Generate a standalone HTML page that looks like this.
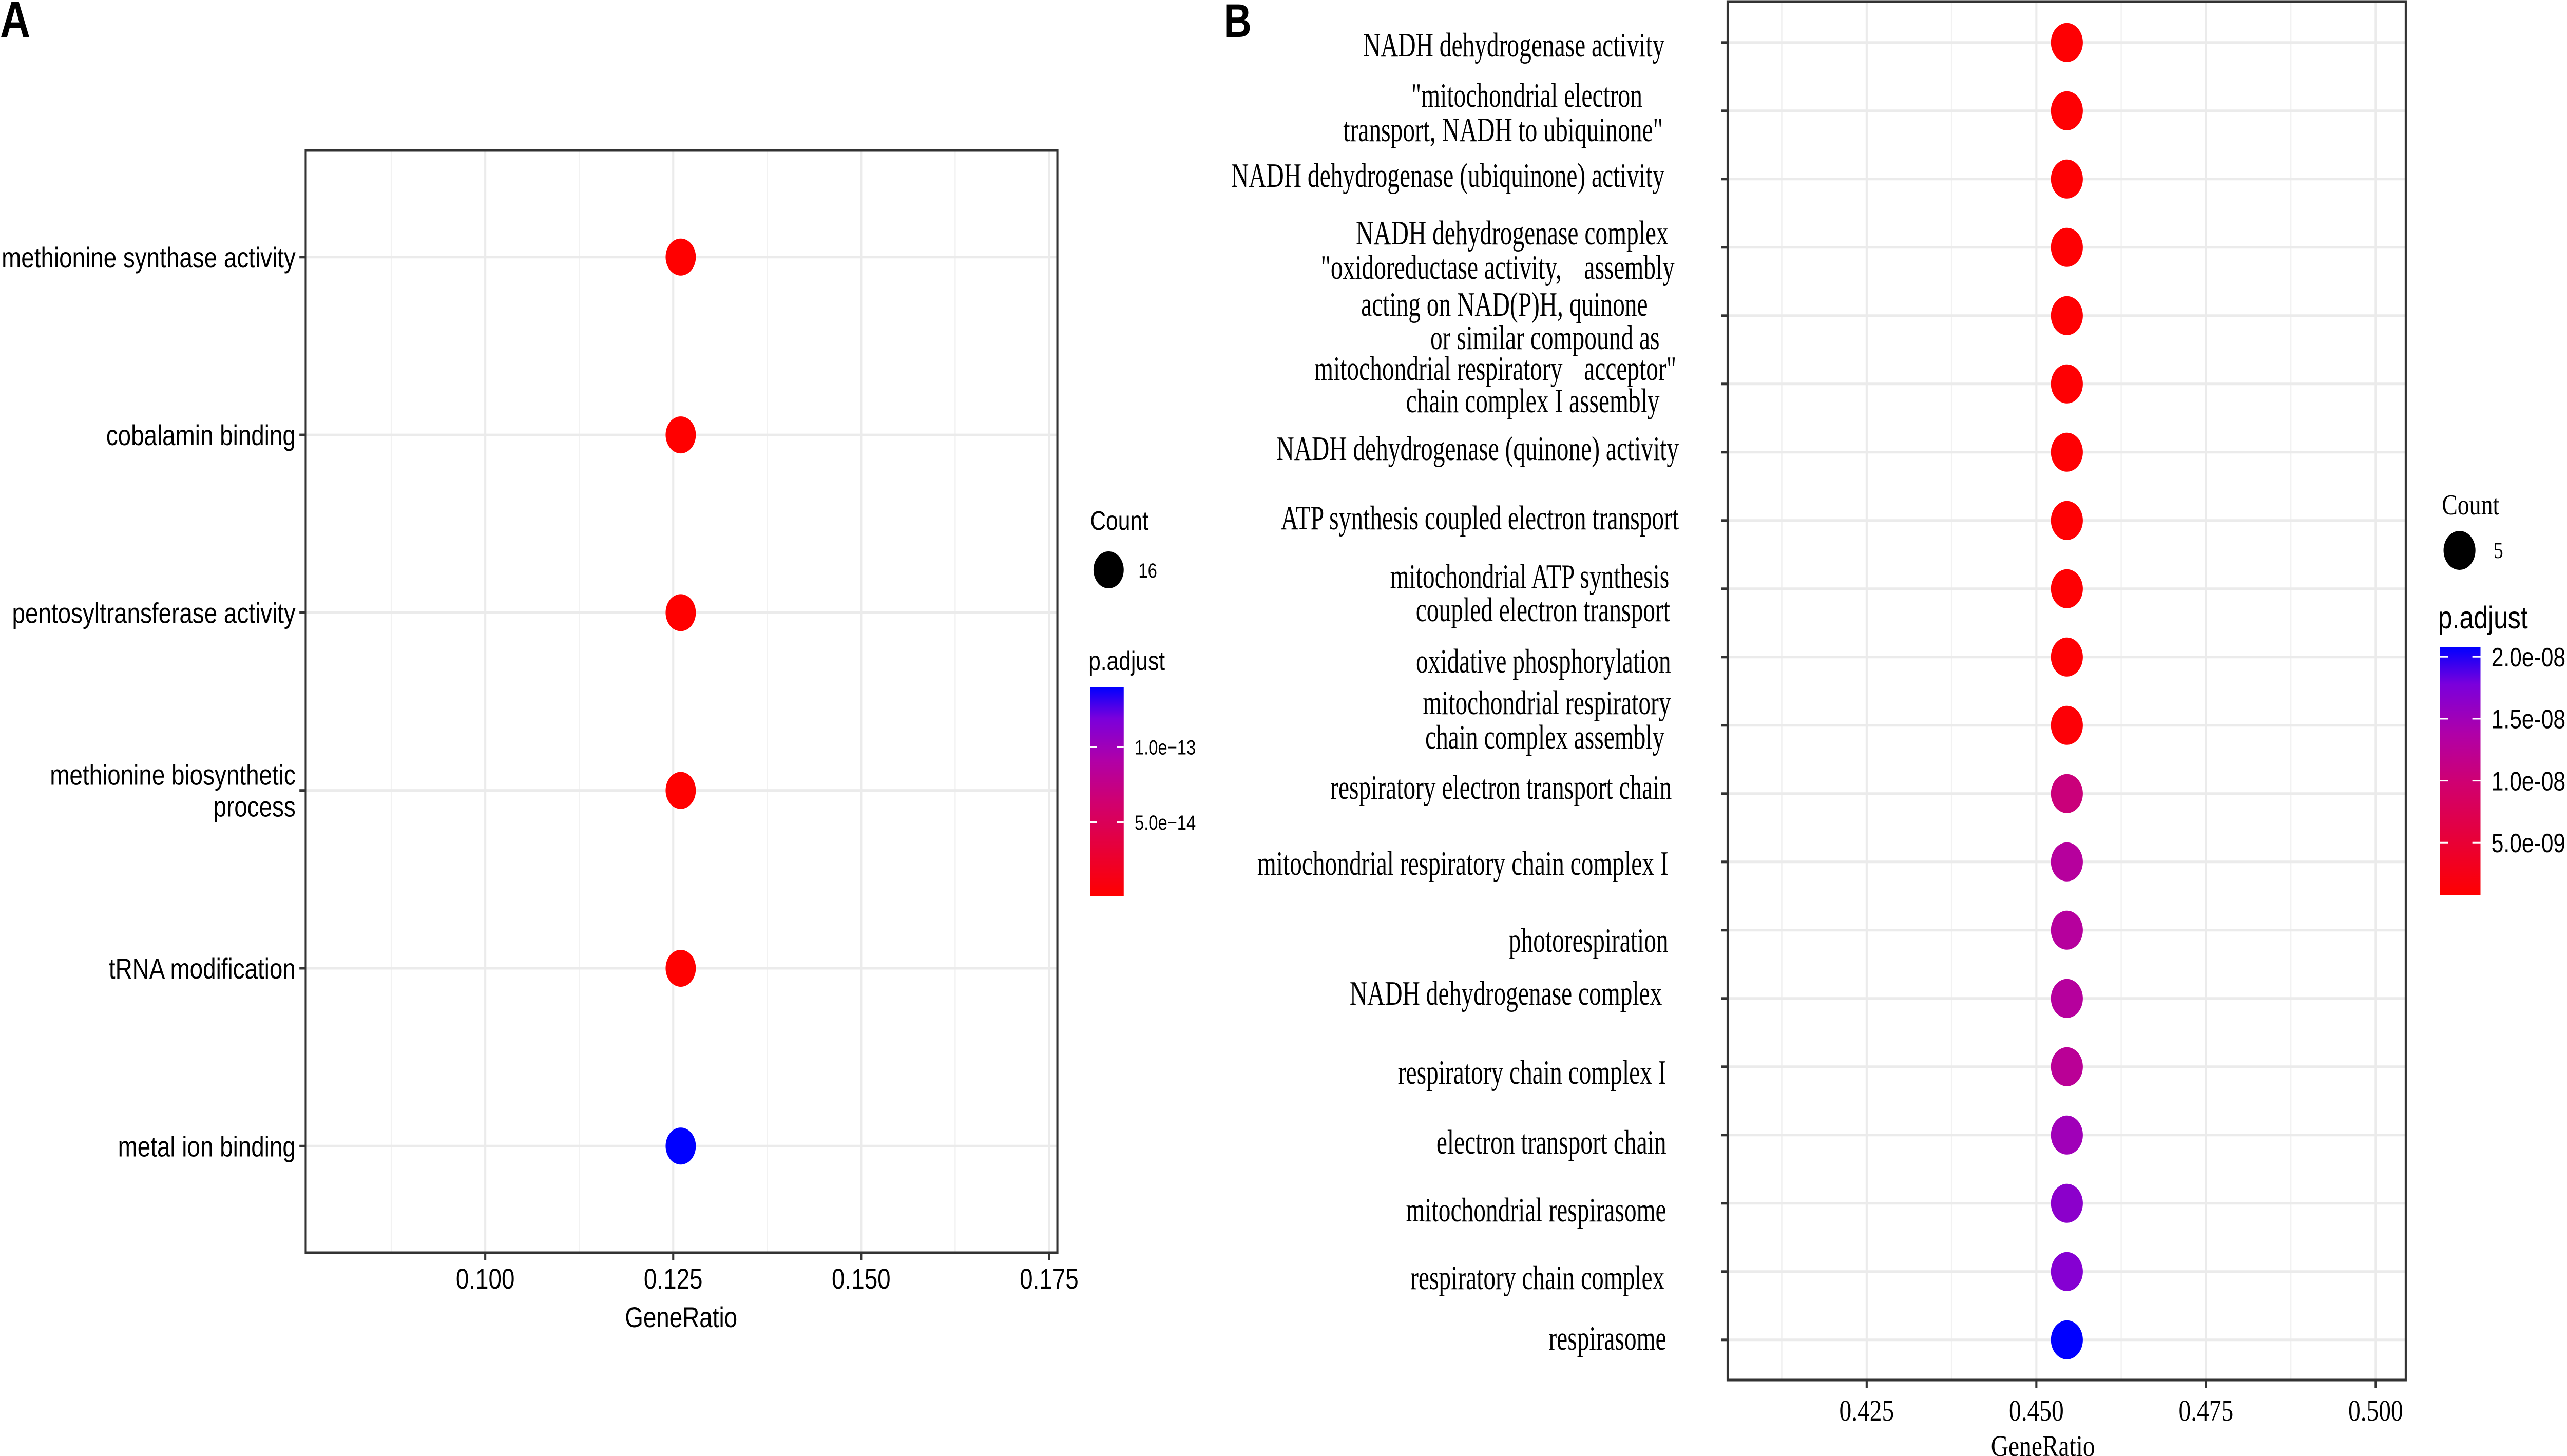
<!DOCTYPE html>
<html><head><meta charset="utf-8"><style>
html,body{margin:0;padding:0;background:#fff;width:100%;height:100%;overflow:hidden;}
svg{display:block;width:100vw;height:100vh;}
.sans{font-family:"Liberation Sans",Arial,sans-serif;}
.serif{font-family:"Liberation Serif","Times New Roman",serif;}
</style></head><body>
<svg id="fig" viewBox="0 0 6113 2836" preserveAspectRatio="none" xmlns="http://www.w3.org/2000/svg" overflow="hidden">
<defs>
<linearGradient id="gradA" x1="0" y1="1" x2="0" y2="0">
<stop offset="0" stop-color="#FF0000"/><stop offset="0.45" stop-color="#D00070"/><stop offset="0.65" stop-color="#B000A8"/><stop offset="0.85" stop-color="#7A00DC"/><stop offset="1" stop-color="#0000FF"/>
</linearGradient>
<linearGradient id="gradB" x1="0" y1="1" x2="0" y2="0">
<stop offset="0" stop-color="#FF0000"/><stop offset="0.45" stop-color="#D00070"/><stop offset="0.65" stop-color="#B000A8"/><stop offset="0.85" stop-color="#7A00DC"/><stop offset="1" stop-color="#0000FF"/>
</linearGradient>
</defs>
<text x="0" y="72" class="sans" font-size="100" font-weight="bold">A</text>
<text x="2914" y="72" class="sans" font-size="92" font-weight="bold">B</text>
<g id="A"></g>
<g id="B"></g>
<g class="serif" font-size="58" text-anchor="end">
<text transform="translate(3964,110) scale(1,1.15)">NADH dehydrogenase activity</text>
<text transform="translate(3911,208) scale(1,1.15)">"mitochondrial electron</text>
<text transform="translate(3960,275) scale(1,1.15)">transport, NADH to ubiquinone"</text>
<text transform="translate(3964,364) scale(1,1.15)">NADH dehydrogenase (ubiquinone) activity</text>
<text transform="translate(3973,476) scale(1,1.15)">NADH dehydrogenase complex</text>
<text transform="translate(3719,543) scale(1,1.15)">"oxidoreductase activity,</text>
<text transform="translate(3988,543) scale(1,1.15)">assembly</text>
<text transform="translate(3924,615) scale(1,1.15)">acting on NAD(P)H, quinone</text>
<text transform="translate(3952,680) scale(1,1.15)">or similar compound as</text>
<text transform="translate(3721,740) scale(1,1.15)">mitochondrial respiratory</text>
<text transform="translate(3992,740) scale(1,1.15)">acceptor"</text>
<text transform="translate(3952,803) scale(1,1.15)">chain complex I assembly</text>
<text transform="translate(3998,896) scale(1,1.15)">NADH dehydrogenase (quinone) activity</text>
<text transform="translate(3998,1031) scale(1,1.15)">ATP synthesis coupled electron transport</text>
<text transform="translate(3975,1145) scale(1,1.15)">mitochondrial ATP synthesis</text>
<text transform="translate(3977,1210) scale(1,1.15)">coupled electron transport</text>
<text transform="translate(3979,1310) scale(1,1.15)">oxidative phosphorylation</text>
<text transform="translate(3979,1391) scale(1,1.15)">mitochondrial respiratory</text>
<text transform="translate(3964,1458) scale(1,1.15)">chain complex assembly</text>
<text transform="translate(3981,1556) scale(1,1.15)">respiratory electron transport chain</text>
<text transform="translate(3973,1704) scale(1,1.15)">mitochondrial respiratory chain complex I</text>
<text transform="translate(3973,1854) scale(1,1.15)">photorespiration</text>
<text transform="translate(3958,1957) scale(1,1.15)">NADH dehydrogenase complex</text>
<text transform="translate(3968,2111) scale(1,1.15)">respiratory chain complex I</text>
<text transform="translate(3968,2247) scale(1,1.15)">electron transport chain</text>
<text transform="translate(3968,2379) scale(1,1.15)">mitochondrial respirasome</text>
<text transform="translate(3964,2511) scale(1,1.15)">respiratory chain complex</text>
<text transform="translate(3968,2629) scale(1,1.15)">respirasome</text>
</g>
</svg>
<script>
// ---- Panel A data ----
const catsA = ["methionine synthase activity","cobalamin binding","pentosyltransferase activity","methionine biosynthetic process","tRNA modification","metal ion binding"];
const ratioA = [0.126,0.126,0.126,0.126,0.126,0.126];
const padjA = [1e-15,1e-15,1e-15,1e-15,1e-15,1.4e-13];
const ticksA = [0.100,0.125,0.150,0.175];
const tickLabelsA = ["0.100","0.125","0.150","0.175"];
const cbTicksA = [1.0e-13,5.0e-14];
const cbLabelsA = ["1.0e\u221213","5.0e\u221214"];
// ---- Panel B data ----
const catsB = ["NADH dehydrogenase activity","mitochondrial electron transport, NADH to ubiquinone","NADH dehydrogenase (ubiquinone) activity","NADH dehydrogenase complex assembly","oxidoreductase activity, acting on NAD(P)H, quinone or similar compound as acceptor","mitochondrial respiratory chain complex I assembly","NADH dehydrogenase (quinone) activity","ATP synthesis coupled electron transport","mitochondrial ATP synthesis coupled electron transport","oxidative phosphorylation","mitochondrial respiratory chain complex assembly","respiratory electron transport chain","mitochondrial respiratory chain complex I","photorespiration","NADH dehydrogenase complex","respiratory chain complex I","electron transport chain","mitochondrial respirasome","respiratory chain complex","respirasome"];
const ratioB = [0.4545,0.4545,0.4545,0.4545,0.4545,0.4545,0.4545,0.4545,0.4545,0.4545,0.4545,0.4545,0.4545,0.4545,0.4545,0.4545,0.4545,0.4545,0.4545,0.4545];
const padjB = [1.0e-9,1.0e-9,1.0e-9,1.0e-9,1.0e-9,1.0e-9,1.0e-9,1.0e-9,1.0e-9,1.0e-9,1.2e-9,1.05e-8,1.3e-8,1.3e-8,1.3e-8,1.25e-8,1.5e-8,1.65e-8,1.7e-8,2.08e-8];
const ticksB = [0.425,0.450,0.475,0.500];
const tickLabelsB = ["0.425","0.450","0.475","0.500"];
const cbTicksB = [2.0e-8,1.5e-8,1.0e-8,5.0e-9];
const cbLabelsB = ["2.0e-08","1.5e-08","1.0e-08","5.0e-09"];

const NS="http://www.w3.org/2000/svg";
function mk(parent,tag,attrs,text){const e=document.createElementNS(NS,tag);for(const k in attrs)e.setAttribute(k,attrs[k]);if(text!==undefined)e.textContent=text;parent.appendChild(e);return e;}
const stops=[[0,[255,0,0]],[0.45,[208,0,112]],[0.65,[176,0,168]],[0.85,[122,0,220]],[1,[0,0,255]]];
function colorAt(t){t=Math.max(0,Math.min(1,t));for(let i=1;i<stops.length;i++){if(t<=stops[i][0]){const a=stops[i-1],b=stops[i];const f=(t-a[0])/(b[0]-a[0]);const c=a[1].map((v,j)=>Math.round(v+(b[1][j]-v)*f));return `rgb(${c[0]},${c[1]},${c[2]})`;}}return "rgb(0,0,255)";}

function panel(g,o){
  const x=v=>o.x0+(v-o.d0)/(o.d1-o.d0)*(o.x1-o.x0);
  const y=i=>o.y0+(i+o.pad)*o.step;
  for(let k=0;k<o.ticks.length;k++){
    const mv=o.ticks[k]-0.0125;
    if(x(mv)>o.x0){const l=mk(g,'line',{x1:x(mv),x2:x(mv),y1:o.y0,y2:o.y1,stroke:'#F2F2F2','stroke-width':3});
    
    }
  }
  o.ticks.forEach((t,k)=>{
    const l=mk(g,'line',{x1:x(t),x2:x(t),y1:o.y0,y2:o.y1,stroke:'#EBEBEB','stroke-width':5});
    
    
    const tk=mk(g,'line',{x1:x(t),x2:x(t),y1:o.y1,y2:o.y1+15,stroke:'#333','stroke-width':5});
    
    
    const tl=mk(g,'text',{x:x(t),y:o.tickY,'text-anchor':'middle','font-size':o.tickFont,class:o.fontCls},o.tickLabels[k]);
    
    
  });
  o.cats.forEach((c,i)=>{
    const l=mk(g,'line',{x1:o.x0,x2:o.x1,y1:y(i),y2:y(i),stroke:'#EBEBEB','stroke-width':5});
    
    
    const tk=mk(g,'line',{x1:o.x0-15,x2:o.x0,y1:y(i),y2:y(i),stroke:'#333','stroke-width':5});
    
    
  });
  o.cats.forEach((c,i)=>{
    const t=(o.padj[i]-o.cMin)/(o.cMax-o.cMin);
    const d=mk(g,'ellipse',{cx:x(o.ratio[i]),cy:y(i),rx:o.r,ry:o.r,fill:colorAt(t)});
    
    
  });
  const b=mk(g,'rect',{x:o.x0,y:o.y0,width:o.x1-o.x0,height:o.y1-o.y0,fill:'none',stroke:'#333','stroke-width':5});
  
  
  const xt=mk(g,'text',{x:o.xTitleX,y:o.xTitleY,'text-anchor':'middle','font-size':o.tickFont,class:o.fontCls},'GeneRatio');
  
  
  const lt=mk(g,'text',{x:o.legX,y:o.countY,'font-size':o.countFont,class:o.fontCls},'Count');
  
  
  const ld=mk(g,'ellipse',{cx:o.legDotX,cy:o.legDotY,rx:o.r,ry:o.r,fill:'#000'});
  
  
  const ll=mk(g,'text',{x:o.legNumX,y:o.legDotY+15,'font-size':o.legNumFont,class:o.fontCls},o.countLabel);
  
  
  const pt=mk(g,'text',{x:o.cbX-4,y:o.padjY,'font-size':o.padjFont,class:'sans'},'p.adjust');
  
  
  const cb=mk(g,'rect',{x:o.cbX,y:o.cbY0,width:o.cbW,height:o.cbY1-o.cbY0,fill:o.grad});
  
  
  const cy=v=>o.cbY1-(v-o.cMin)/(o.cMax-o.cMin)*(o.cbY1-o.cbY0);
  o.cbTicks.forEach((v,k)=>{
    mk(g,'line',{x1:o.cbX,x2:o.cbX+o.cbW*0.2,y1:cy(v),y2:cy(v),stroke:'#fff','stroke-width':3});
    mk(g,'line',{x1:o.cbX+o.cbW*0.8,x2:o.cbX+o.cbW,y1:cy(v),y2:cy(v),stroke:'#fff','stroke-width':3});
    const tl=mk(g,'text',{x:o.cbX+o.cbW+26,y:cy(v)+o.cbFont*0.36,'font-size':o.cbFont,class:'sans'},o.cbLabels[k]);
    
    
  });
}
const gA=document.getElementById('A');
panel(gA,{cats:catsA,ratio:ratioA,padj:padjA,ticks:ticksA,tickLabels:tickLabelsA,
 x0:728,x1:2518,d0:0.07612,d1:0.1761,y0:293,y1:2440,step:346.3,pad:0.6,r:36,
 tickY:2510,tickFont:56,fontCls:'sans',xTitleX:1622,xTitleY:2585,
 legX:2596,countY:1032,countFont:52,legDotX:2640,legDotY:1110,legNumX:2711,legNumFont:40,countLabel:'16',
 padjY:1305,padjFont:52,cbX:2596,cbY0:1338,cbY1:1745,cbW:80,grad:'url(#gradA)',cMin:1e-15,cMax:1.4e-13,
 cbTicks:cbTicksA,cbLabels:cbLabelsA,cbFont:40});
const yLinesA=[["methionine synthase activity"],["cobalamin binding"],["pentosyltransferase activity"],["methionine biosynthetic","process"],["tRNA modification"],["metal ion binding"]];
yLinesA.forEach((lines,i)=>{
  const yc=293+(i+0.6)*346.3;
  lines.forEach((s,j)=>{
    const t=mk(gA,'text',{x:704,y:yc+20+(j-(lines.length-1)/2)*62,'text-anchor':'end','font-size':56,class:'sans'},s);
    
    
  });
});
const gB=document.getElementById('B');
panel(gB,{cats:catsB,ratio:ratioB,padj:padjB,ticks:ticksB,tickLabels:tickLabelsB,
 x0:4114,x1:5729,d0:0.40451,d1:0.50443,y0:3,y1:2688,step:133,pad:0.6,r:38,
 tickY:2767,tickFont:58,fontCls:'serif',xTitleX:4865,xTitleY:2836,
 legX:5815,countY:1002,countFont:56,legDotX:5857,legDotY:1072,legNumX:5938,legNumFont:46,countLabel:'5',
 padjY:1224,padjFont:61,cbX:5810,cbY0:1260,cbY1:1744,cbW:97,grad:'url(#gradB)',cMin:7.4e-10,cMax:2.08e-8,
 cbTicks:cbTicksB,cbLabels:cbLabelsB,cbFont:52});
</script>
</body></html>
